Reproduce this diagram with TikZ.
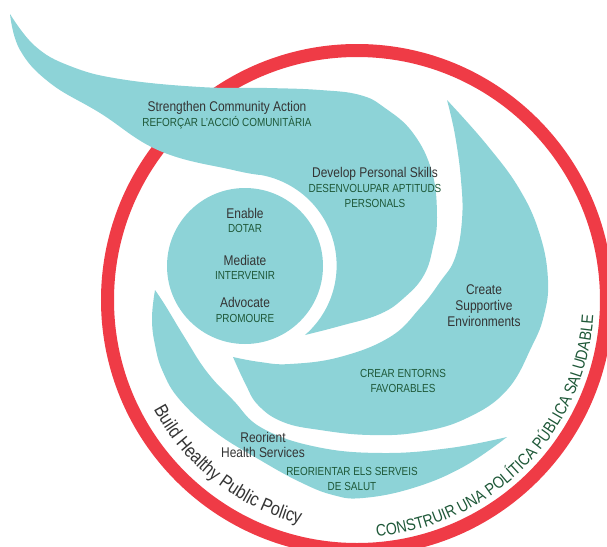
\documentclass[tikz,border=0pt]{standalone}
\usepackage{fontspec}
\usepackage{tkz-euclide}
\usetikzlibrary{decorations.text}
\newfontfamily\labelfont{Liberation Sans}[FakeStretch=0.85]
\definecolor{swirlteal}{RGB}{141,211,215}
\definecolor{ringred}{RGB}{239,59,70}
\definecolor{catgreen}{RGB}{30,88,56}
\definecolor{engray}{RGB}{52,52,52}
\tikzset{>=stealth}

\begin{document}
\begin{tikzpicture}[x=0.025cm, y=-0.025cm,
    swirl/.style={fill=swirlteal},
    entext/.style={font=\labelfont\fontsize{10}{11.3}\selectfont, text=engray, align=center, inner sep=0pt},
    catext/.style={font=\labelfont\fontsize{8.3}{10.2}\selectfont, text=catgreen, align=center, inner sep=0pt}]
    \useasboundingbox (0,0) rectangle (607,547);
    \tkzDefPoints{357/300/O, 245/266/C}
    % red ring, partly cut by the page
    \draw[ringred, line width=0.325cm] (O) circle[radius=249.5];
    % swirl with the long tail
    \fill[swirl] plot[smooth, tension=.7] coordinates {(10,14) (35,46) (70,66) (120,79) (200,87) (267,88) (320,90) (360,95) (385,108) (413,133) (432,172) (437,217) (433,247) (424,275) (405,297) (380,314) (340,326) (305,335)}
        arc[start angle=49, end angle=-80, radius=92]
        -- plot[smooth, tension=.7] coordinates {(261,175) (233,170) (160,151) (100,113) (50,83) (20,50) (10,14)} -- cycle;
    % right swirl
    \fill[swirl] plot[smooth, tension=.7] coordinates {(447,100) (487,145) (520,190) (540,235) (548,280) (544,315) (532,346) (507,390) (467,418) (420,432) (370,435) (320,430) (283,422) (258,405) (245,383) (233,357)}
        -- plot[smooth, tension=.7] coordinates {(233,357) (260,362) (290,364) (340,357) (390,337) (420,308) (440,282) (455,258) (462,220) (461,180) (455,135) (447,100)} -- cycle;
    % lower swirl
    \fill[swirl] plot[smooth, tension=.7] coordinates {(155,290) (152,318) (155,345) (163,372) (180,400) (215,432) (260,460) (300,482) (333,495) (363,498) (413,488) (463,467) (507,437)}
        -- plot[smooth, tension=.7] coordinates {(507,437) (450,448) (383,453) (317,447) (262,428) (233,400) (207,372) (185,338) (165,305) (155,290)} -- cycle;
    % centre disc
    \fill[swirl] (C) circle[radius=78];
    % labels
    \node[entext] (sca) at (227,108) {Strengthen Community Action};
    \node[catext] (scaCat) at (227,123) {REFORÇAR L’ACCIÓ COMUNITÀRIA};
    \node[entext] (dps) at (375,174) {Develop Personal Skills};
    \node[catext] (dpsCat) at (375,196) {DESENVOLUPAR APTITUDS\\PERSONALS};
    \node[entext] (enable) at (245,213) {Enable};
    \node[catext] (enableCat) at (245,228) {DOTAR};
    \node[entext] (mediate) at (245,260) {Mediate};
    \node[catext] (mediateCat) at (245,275) {INTERVENIR};
    \node[entext] (advocate) at (245,302) {Advocate};
    \node[catext] (advocateCat) at (245,318) {PROMOURE};
    \node[entext] (cse) at (484,306) {Create\\Supportive\\Environments};
    \node[catext] (cseCat) at (403,381) {CREAR ENTORNS\\FAVORABLES};
    \node[entext] (rhs) at (263,445) {Reorient\\Health Services};
    \node[catext] (rhsCat) at (352,479) {REORIENTAR ELS SERVEIS\\DE SALUT};
    % texts along the ring
    \path[decorate, decoration={text along path, text align=center,
        text={|\labelfont\fontsize{13.5}{16}\selectfont\color{engray}|Build Healthy Public Policy}}]
        (O) ++(168:231) arc[start angle=168, end angle=88, radius=231];
    \path[decorate, decoration={text along path, text align=center,
        text={|\labelfont\fontsize{11.8}{14}\selectfont\color{catgreen}|CONSTRUIR UNA POLÍTICA PÚBLICA SALUDABLE}}]
        (O) ++(99.5:237) arc[start angle=99.5, end angle=-10.5, radius=237];
\end{tikzpicture}
\end{document}
